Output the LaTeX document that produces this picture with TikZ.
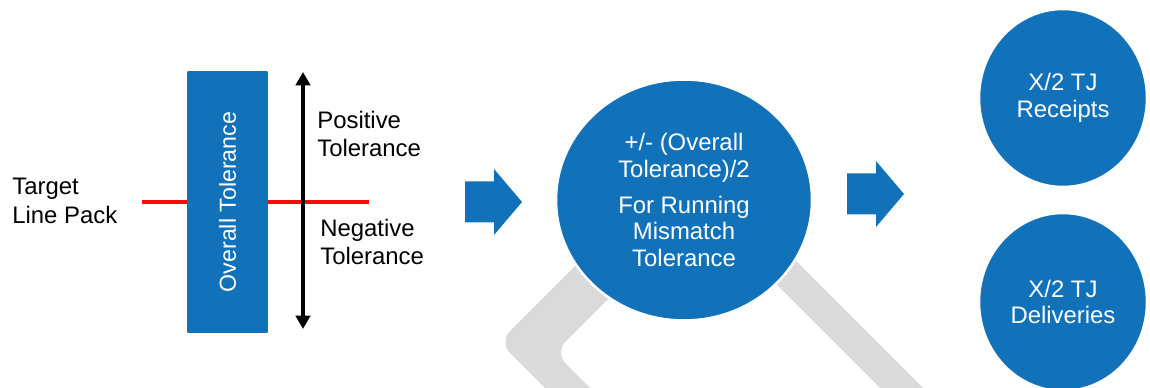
\documentclass[tikz,border=0pt]{standalone}
\usepackage{fontspec}
\setmainfont{Liberation Sans}
\usetikzlibrary{arrows.meta,shapes.geometric}
\definecolor{tolblue}{RGB}{17,114,186}
\definecolor{markgray}{RGB}{218,218,218}
\definecolor{packred}{RGB}{250,10,10}

\begin{document}
\begin{tikzpicture}[x=0.02cm, y=-0.02cm,
    txt/.style={font=\fontsize{13.6}{16.2}\selectfont, align=left, inner sep=0pt},
    bar/.style={fill=tolblue, text=white, rotate=90, minimum width=5.24cm, minimum height=1.62cm,
      rounded corners=0.6pt, inner sep=0pt, font=\fontsize{13.2}{16}\selectfont},
    bubble/.style={ellipse, fill=tolblue, draw=white, line width=1.4pt, text=white, align=center,
      inner sep=0pt, font=\fontsize{13.6}{15.2}\selectfont},
    tolarrow/.style={{Triangle[width=0.29cm,length=0.27cm]}-{Triangle[width=0.29cm,length=0.27cm]}, line width=2.1pt}]
      \useasboundingbox (0,0) rectangle (1150,388);
      \clip (0,0) rectangle (1150,388);

      % grey mark behind the middle circle
      \fill[markgray, rounded corners=9pt] (587,430) -- (499,342) -- (688,153) -- (965,430)
        -- (922,430) -- (699.5,207.5) -- (554.5,352.5) -- (632,430) -- cycle;

      \node[txt, anchor=west] (target) at (12,201) {Target\\Line Pack};

      \coordinate (packL) at (142,202);
      \coordinate (packR) at (369,202);
      \draw[packred, line width=2.3pt] (packL) -- (packR);

      \node[bar] (overall) at (227.5,202) {Overall Tolerance};

      \coordinate (up) at (303,72);
      \coordinate (down) at (303,329);
      \draw[tolarrow] (down) -- (up);

      \node[txt, anchor=west] (pos) at (317,134) {Positive\\Tolerance};
      \node[txt, anchor=west] (neg) at (320,242) {Negative\\Tolerance};

      % block arrows
      \foreach \ax/\ay in {465/202, 847/194}
        \fill[tolblue, shift={(\ax,\ay)}] (0,-20.5) -- (29,-20.5) -- (29,-33) -- (57,0)
          -- (29,33) -- (29,20.5) -- (0,20.5) -- cycle;

      \node[bubble, minimum width=5.12cm, minimum height=4.82cm] (half) at (684,200)
        {+/- (Overall\\Tolerance)/2\\[0.19cm]For Running\\Mismatch\\Tolerance};
      \node[bubble, minimum width=3.36cm, minimum height=3.56cm] (receipts) at (1063,98)
        {X/2 TJ\\Receipts};
      \node[bubble, minimum width=3.36cm, minimum height=3.56cm] (deliveries) at (1063,302)
        {X/2 TJ\\Deliveries};
    \end{tikzpicture}
\end{document}
